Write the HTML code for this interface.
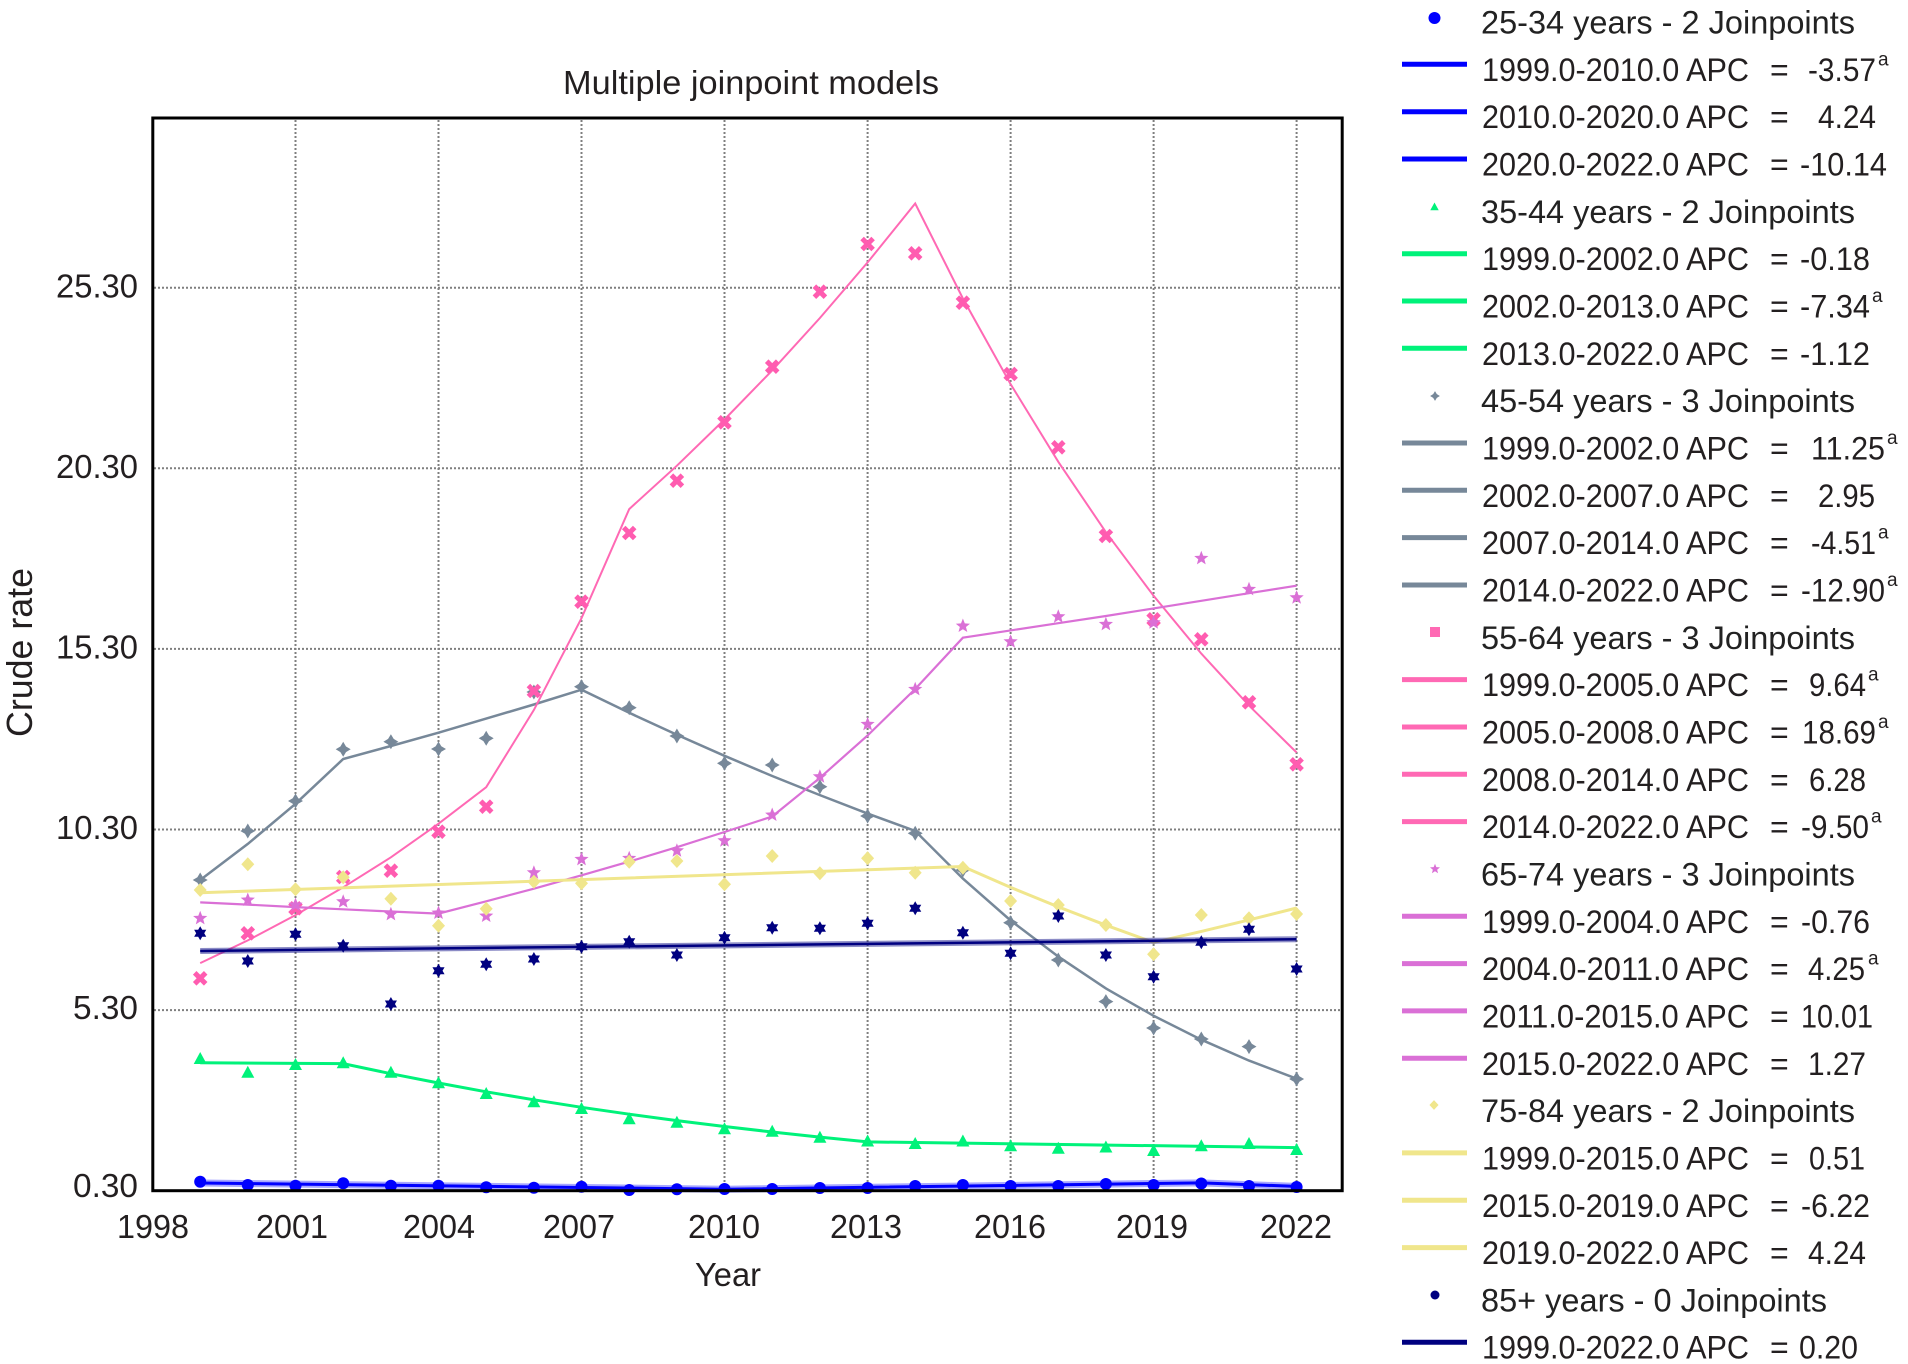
<!DOCTYPE html>
<html>
<head>
<meta charset="utf-8">
<style>
html,body{margin:0;padding:0;background:#fff;}
svg{display:block;}
text{font-family:"Liberation Sans","DejaVu Sans",sans-serif;fill:#231f20;}
.lg{font-size:32px;fill:#222;}
.sup{font-size:19px;fill:#222;}
.tk{font-size:33px;}
</style>
</head>
<body>
<svg width="1908" height="1364" viewBox="0 0 1908 1364" xmlns="http://www.w3.org/2000/svg">
<defs>
  <circle id="mc" r="6" fill="#0000ff"/>
  <path id="mt" d="M0,-7 L6.5,5 L-6.5,5Z" fill="#00f27a"/>
  <path id="mp" d="M0,-7.5 L2.8,-2.8 L7.5,0 L2.8,2.8 L0,7.5 L-2.8,2.8 L-7.5,0 L-2.8,-2.8Z" fill="#778899"/>
  <path id="mx" d="M-5.5,-5.5 L5.5,5.5 M5.5,-5.5 L-5.5,5.5" stroke="#ff5cb0" stroke-width="5" fill="none"/>
  <path id="ms" d="M0,-7.5 L1.9,-2.6 L7.1,-2.3 L3.05,1 L4.4,6.05 L0,3.2 L-4.4,6.05 L-3.05,1 L-7.1,-2.3 L-1.9,-2.6Z" fill="#da70d6"/>
  <path id="md" d="M0,-7 L6.5,0 L0,7 L-6.5,0Z" fill="#f0e68c"/>
  <path id="mh" d="M0,-7 L6.06,3.5 L-6.06,3.5Z M0,7 L-6.06,-3.5 L6.06,-3.5Z" fill="#000080"/>
</defs>
<rect width="1908" height="1364" fill="#fff"/>

<!-- title -->
<text x="751" y="94" font-size="33" text-anchor="middle" textLength="376" lengthAdjust="spacingAndGlyphs">Multiple joinpoint models</text>

<!-- gridlines -->
<g stroke="#7f7f7f" stroke-width="2" stroke-dasharray="2 2" fill="none">
  <line x1="154" y1="287.7" x2="1341" y2="287.7"/>
  <line x1="154" y1="468.3" x2="1341" y2="468.3"/>
  <line x1="154" y1="648.9" x2="1341" y2="648.9"/>
  <line x1="154" y1="829.5" x2="1341" y2="829.5"/>
  <line x1="154" y1="1010.1" x2="1341" y2="1010.1"/>
  <line x1="295.5" y1="120" x2="295.5" y2="1189"/>
  <line x1="438.5" y1="120" x2="438.5" y2="1189"/>
  <line x1="581.5" y1="120" x2="581.5" y2="1189"/>
  <line x1="724.5" y1="120" x2="724.5" y2="1189"/>
  <line x1="867.6" y1="120" x2="867.6" y2="1189"/>
  <line x1="1010.6" y1="120" x2="1010.6" y2="1189"/>
  <line x1="1153.6" y1="120" x2="1153.6" y2="1189"/>
  <line x1="1296.6" y1="120" x2="1296.6" y2="1189"/>
</g>

<!-- y tick labels -->
<g class="tk" text-anchor="end">
  <text x="138" y="297.5" textLength="82" lengthAdjust="spacingAndGlyphs">25.30</text>
  <text x="138" y="478" textLength="82" lengthAdjust="spacingAndGlyphs">20.30</text>
  <text x="138" y="658.5" textLength="82" lengthAdjust="spacingAndGlyphs">15.30</text>
  <text x="138" y="839" textLength="82" lengthAdjust="spacingAndGlyphs">10.30</text>
  <text x="138" y="1019" textLength="65" lengthAdjust="spacingAndGlyphs">5.30</text>
  <text x="138" y="1197" textLength="65" lengthAdjust="spacingAndGlyphs">0.30</text>
</g>
<!-- x tick labels -->
<g class="tk" text-anchor="middle">
  <text x="153" y="1238" textLength="72" lengthAdjust="spacingAndGlyphs">1998</text>
  <text x="292" y="1238" textLength="72" lengthAdjust="spacingAndGlyphs">2001</text>
  <text x="439" y="1238" textLength="72" lengthAdjust="spacingAndGlyphs">2004</text>
  <text x="579" y="1238" textLength="72" lengthAdjust="spacingAndGlyphs">2007</text>
  <text x="724" y="1238" textLength="72" lengthAdjust="spacingAndGlyphs">2010</text>
  <text x="866" y="1238" textLength="72" lengthAdjust="spacingAndGlyphs">2013</text>
  <text x="1010" y="1238" textLength="72" lengthAdjust="spacingAndGlyphs">2016</text>
  <text x="1152" y="1238" textLength="72" lengthAdjust="spacingAndGlyphs">2019</text>
  <text x="1296" y="1238" textLength="72" lengthAdjust="spacingAndGlyphs">2022</text>
</g>
<text x="728" y="1286" font-size="33" text-anchor="middle" textLength="66" lengthAdjust="spacingAndGlyphs">Year</text>
<text transform="translate(32,652.5) rotate(-90)" font-size="36" text-anchor="middle" textLength="169" lengthAdjust="spacingAndGlyphs">Crude rate</text>

<!-- 25-34 blue -->
<polyline fill="none" stroke="rgba(0,0,255,0.35)" stroke-width="7" points="200.2,1183 724.5,1189.2 1201.3,1182.9 1296.6,1186.4"/>
<polyline fill="none" stroke="#0000ff" stroke-width="3" points="200.2,1183 724.5,1189.2 1201.3,1182.9 1296.6,1186.4"/>
<g>
<use href="#mc" x="200.2" y="1181.7"/><use href="#mc" x="247.8" y="1185"/><use href="#mc" x="295.5" y="1185.7"/><use href="#mc" x="343.2" y="1183.3"/><use href="#mc" x="390.9" y="1185.7"/><use href="#mc" x="438.5" y="1185.7"/><use href="#mc" x="486.2" y="1187.3"/><use href="#mc" x="533.9" y="1187.7"/><use href="#mc" x="581.5" y="1186.7"/><use href="#mc" x="629.2" y="1190"/><use href="#mc" x="676.9" y="1189.3"/><use href="#mc" x="724.5" y="1189"/><use href="#mc" x="772.2" y="1189"/><use href="#mc" x="819.9" y="1188"/><use href="#mc" x="867.6" y="1188"/><use href="#mc" x="915.2" y="1186"/><use href="#mc" x="962.9" y="1185"/><use href="#mc" x="1010.6" y="1186"/><use href="#mc" x="1058.3" y="1186"/><use href="#mc" x="1105.9" y="1184"/><use href="#mc" x="1153.6" y="1185"/><use href="#mc" x="1201.3" y="1183.5"/><use href="#mc" x="1249" y="1186"/><use href="#mc" x="1296.6" y="1187"/>
</g>

<!-- 35-44 green -->
<polyline fill="none" stroke="#00f27a" stroke-width="3" points="200.2,1062.8 343.2,1063.6 390.9,1073.7 438.5,1083.0 486.2,1091.8 533.9,1099.8 581.5,1107.3 629.2,1114.2 676.9,1120.6 724.5,1126.5 772.2,1132.0 819.9,1137.1 867.6,1141.9 1296.6,1147.6"/>
<g>
<use href="#mt" x="200.2" y="1059"/><use href="#mt" x="247.8" y="1072.7"/><use href="#mt" x="295.5" y="1065"/><use href="#mt" x="343.2" y="1063.3"/><use href="#mt" x="390.9" y="1072.7"/><use href="#mt" x="438.5" y="1083.3"/><use href="#mt" x="486.2" y="1094"/><use href="#mt" x="533.9" y="1102.3"/><use href="#mt" x="581.5" y="1109"/><use href="#mt" x="629.2" y="1119.3"/><use href="#mt" x="676.9" y="1122.7"/><use href="#mt" x="724.5" y="1129.3"/><use href="#mt" x="772.2" y="1131.7"/><use href="#mt" x="819.9" y="1137.8"/><use href="#mt" x="867.6" y="1141.5"/><use href="#mt" x="915.2" y="1144"/><use href="#mt" x="962.9" y="1141.5"/><use href="#mt" x="1010.6" y="1146.3"/><use href="#mt" x="1058.3" y="1148.7"/><use href="#mt" x="1105.9" y="1147.5"/><use href="#mt" x="1153.6" y="1151"/><use href="#mt" x="1201.3" y="1146.3"/><use href="#mt" x="1249" y="1144"/><use href="#mt" x="1296.6" y="1150"/>
</g>

<!-- 45-54 gray -->
<polyline fill="none" stroke="#778899" stroke-width="2.5" points="200.2,880.0 247.8,843.9 295.5,803.8 343.2,759.0 390.9,746.0 438.5,732.7 486.2,718.6 533.9,704.5 581.5,689.7 629.2,712.8 676.9,734.8 724.5,755.8 772.2,776.0 819.9,795.1 867.6,813.6 915.2,830.9 962.9,878.6 1010.6,920.5 1058.3,956.6 1105.9,988.4 1153.6,1015.8 1201.3,1039.7 1249.0,1060.6 1296.6,1078.7"/>
<g>
<use href="#mp" x="200.2" y="880"/><use href="#mp" x="247.8" y="831"/><use href="#mp" x="295.5" y="801"/><use href="#mp" x="343.2" y="749.3"/><use href="#mp" x="390.9" y="741.7"/><use href="#mp" x="438.5" y="749"/><use href="#mp" x="486.2" y="738.3"/><use href="#mp" x="533.9" y="692"/><use href="#mp" x="581.5" y="686.7"/><use href="#mp" x="629.2" y="707.7"/><use href="#mp" x="676.9" y="736"/><use href="#mp" x="724.5" y="763.3"/><use href="#mp" x="772.2" y="765"/><use href="#mp" x="819.9" y="786.7"/><use href="#mp" x="867.6" y="816"/><use href="#mp" x="915.2" y="833.3"/><use href="#mp" x="962.9" y="870"/><use href="#mp" x="1010.6" y="922.7"/><use href="#mp" x="1058.3" y="960"/><use href="#mp" x="1105.9" y="1001.6"/><use href="#mp" x="1153.6" y="1028"/><use href="#mp" x="1201.3" y="1039"/><use href="#mp" x="1249" y="1046.6"/><use href="#mp" x="1296.6" y="1079"/>
</g>

<!-- 55-64 pink -->
<polyline fill="none" stroke="#ff69b4" stroke-width="2" points="200.2,963.1 247.8,940.4 295.5,915.1 343.2,887.3 390.9,857.3 438.5,823.7 486.2,787.2 533.9,709.9 581.5,618.2 629.2,509.1 676.9,465.7 724.5,419.5 772.2,370.4 819.9,318.0 867.6,262.4 915.2,203.5 962.9,298.5 1010.6,384.1 1058.3,461.8 1105.9,532.2 1153.6,595.8 1201.3,653.6 1249.0,705.6 1296.6,752.5"/>
<g>
<use href="#mx" x="200.2" y="978.3"/><use href="#mx" x="247.8" y="933.3"/><use href="#mx" x="295.5" y="908.3"/><use href="#mx" x="343.2" y="877"/><use href="#mx" x="390.9" y="870.7"/><use href="#mx" x="438.5" y="831.7"/><use href="#mx" x="486.2" y="806.7"/><use href="#mx" x="533.9" y="691"/><use href="#mx" x="581.5" y="601.7"/><use href="#mx" x="629.2" y="533"/><use href="#mx" x="676.9" y="480.7"/><use href="#mx" x="724.5" y="422.3"/><use href="#mx" x="772.2" y="366.7"/><use href="#mx" x="819.9" y="291.7"/><use href="#mx" x="867.6" y="244"/><use href="#mx" x="915.2" y="253.3"/><use href="#mx" x="962.9" y="302.7"/><use href="#mx" x="1010.6" y="374"/><use href="#mx" x="1058.3" y="447.3"/><use href="#mx" x="1105.9" y="536"/><use href="#mx" x="1153.6" y="619.3"/><use href="#mx" x="1201.3" y="639.3"/><use href="#mx" x="1249" y="702.3"/><use href="#mx" x="1296.6" y="764.3"/>
</g>

<!-- 65-74 magenta -->
<polyline fill="none" stroke="#da70d6" stroke-width="2.2" points="200.2,902.4 247.8,904.6 295.5,907.1 343.2,909.3 390.9,911.5 438.5,913.6 486.2,901.3 533.9,888.7 581.5,875.3 629.2,861.6 676.9,847.2 724.5,832.0 772.2,816.5 819.9,777.8 867.6,735.5 915.2,689.0 962.9,637.7 1010.6,630.4 1058.3,623.2 1105.9,616.0 1153.6,608.4 1201.3,600.8 1249.0,593.2 1296.6,585.7"/>
<g>
<use href="#ms" x="200.2" y="918.3"/><use href="#ms" x="247.8" y="900"/><use href="#ms" x="295.5" y="905"/><use href="#ms" x="343.2" y="901.7"/><use href="#ms" x="390.9" y="914.3"/><use href="#ms" x="438.5" y="913"/><use href="#ms" x="486.2" y="916"/><use href="#ms" x="533.9" y="872.7"/><use href="#ms" x="581.5" y="859.3"/><use href="#ms" x="629.2" y="858.3"/><use href="#ms" x="676.9" y="850.7"/><use href="#ms" x="724.5" y="840.7"/><use href="#ms" x="772.2" y="815"/><use href="#ms" x="819.9" y="776.7"/><use href="#ms" x="867.6" y="724.3"/><use href="#ms" x="915.2" y="689.3"/><use href="#ms" x="962.9" y="626"/><use href="#ms" x="1010.6" y="641.7"/><use href="#ms" x="1058.3" y="616.7"/><use href="#ms" x="1105.9" y="624.3"/><use href="#ms" x="1153.6" y="622.7"/><use href="#ms" x="1201.3" y="558.3"/><use href="#ms" x="1249" y="589.3"/><use href="#ms" x="1296.6" y="597.7"/>
</g>

<!-- 75-84 yellow -->
<polyline fill="none" stroke="#f0e68c" stroke-width="3" points="200.2,892.7 962.9,866.5 1010.6,887.4 1058.3,906.9 1105.9,925.2 1153.6,942.4 1201.3,931.4 1249.0,919.9 1296.6,908.0"/>
<g>
<use href="#md" x="200.2" y="890"/><use href="#md" x="247.8" y="864.3"/><use href="#md" x="295.5" y="889.3"/><use href="#md" x="343.2" y="877.3"/><use href="#md" x="390.9" y="898.7"/><use href="#md" x="438.5" y="925.7"/><use href="#md" x="486.2" y="908.7"/><use href="#md" x="533.9" y="881.7"/><use href="#md" x="581.5" y="883.3"/><use href="#md" x="629.2" y="861.7"/><use href="#md" x="676.9" y="861"/><use href="#md" x="724.5" y="884.3"/><use href="#md" x="772.2" y="856"/><use href="#md" x="819.9" y="873.3"/><use href="#md" x="867.6" y="858.3"/><use href="#md" x="915.2" y="872.7"/><use href="#md" x="962.9" y="867.7"/><use href="#md" x="1010.6" y="901"/><use href="#md" x="1058.3" y="905"/><use href="#md" x="1105.9" y="925"/><use href="#md" x="1153.6" y="954.3"/><use href="#md" x="1201.3" y="915"/><use href="#md" x="1249" y="918.3"/><use href="#md" x="1296.6" y="914"/>
</g>

<!-- 85+ navy -->
<g>
<use href="#mh" x="200.2" y="933.3"/><use href="#mh" x="247.8" y="961"/><use href="#mh" x="295.5" y="934.3"/><use href="#mh" x="343.2" y="945.7"/><use href="#mh" x="390.9" y="1004"/><use href="#mh" x="438.5" y="970.7"/><use href="#mh" x="486.2" y="964.3"/><use href="#mh" x="533.9" y="959"/><use href="#mh" x="581.5" y="946.7"/><use href="#mh" x="629.2" y="941.7"/><use href="#mh" x="676.9" y="955"/><use href="#mh" x="724.5" y="937.7"/><use href="#mh" x="772.2" y="927.7"/><use href="#mh" x="819.9" y="928.3"/><use href="#mh" x="867.6" y="923.3"/><use href="#mh" x="915.2" y="908.3"/><use href="#mh" x="962.9" y="932.7"/><use href="#mh" x="1010.6" y="953.3"/><use href="#mh" x="1058.3" y="916"/><use href="#mh" x="1105.9" y="955"/><use href="#mh" x="1153.6" y="976.7"/><use href="#mh" x="1201.3" y="942.3"/><use href="#mh" x="1249" y="929.3"/><use href="#mh" x="1296.6" y="969"/>
</g>
<line x1="200.2" y1="951" x2="1296.6" y2="939.2" stroke="rgba(0,0,128,0.45)" stroke-width="6"/>
<line x1="200.2" y1="951" x2="1296.6" y2="939.2" stroke="#000080" stroke-width="2.5"/>

<!-- plot border -->
<rect x="152.8" y="118" width="1189.4" height="1072.7" fill="none" stroke="#000" stroke-width="3"/>

<!-- legend -->
<g>
  <g stroke-width="5">
    <line x1="1402" x2="1467" y1="64.3" y2="64.3" stroke="#0000ff"/>
    <line x1="1402" x2="1467" y1="111.7" y2="111.7" stroke="#0000ff"/>
    <line x1="1402" x2="1467" y1="159" y2="159" stroke="#0000ff"/>
    <line x1="1402" x2="1467" y1="253.7" y2="253.7" stroke="#00f27a"/>
    <line x1="1402" x2="1467" y1="301" y2="301" stroke="#00f27a"/>
    <line x1="1402" x2="1467" y1="348.3" y2="348.3" stroke="#00f27a"/>
    <line x1="1402" x2="1467" y1="443" y2="443" stroke="#778899"/>
    <line x1="1402" x2="1467" y1="490.3" y2="490.3" stroke="#778899"/>
    <line x1="1402" x2="1467" y1="537.6" y2="537.6" stroke="#778899"/>
    <line x1="1402" x2="1467" y1="585" y2="585" stroke="#778899"/>
    <line x1="1402" x2="1467" y1="679.6" y2="679.6" stroke="#ff69b4"/>
    <line x1="1402" x2="1467" y1="727" y2="727" stroke="#ff69b4"/>
    <line x1="1402" x2="1467" y1="774.3" y2="774.3" stroke="#ff69b4"/>
    <line x1="1402" x2="1467" y1="821.6" y2="821.6" stroke="#ff69b4"/>
    <line x1="1402" x2="1467" y1="916.3" y2="916.3" stroke="#da70d6"/>
    <line x1="1402" x2="1467" y1="963.6" y2="963.6" stroke="#da70d6"/>
    <line x1="1402" x2="1467" y1="1010.9" y2="1010.9" stroke="#da70d6"/>
    <line x1="1402" x2="1467" y1="1058.3" y2="1058.3" stroke="#da70d6"/>
    <line x1="1402" x2="1467" y1="1152.9" y2="1152.9" stroke="#f0e68c"/>
    <line x1="1402" x2="1467" y1="1200.3" y2="1200.3" stroke="#f0e68c"/>
    <line x1="1402" x2="1467" y1="1247.6" y2="1247.6" stroke="#f0e68c"/>
    <line x1="1402" x2="1467" y1="1342.2" y2="1342.2" stroke="#000080"/>
  </g>
  <use href="#mc" x="1434.5" y="18"/>
  <use href="#mt" transform="translate(1434.5,207) scale(0.65)"/>
  <use href="#mp" transform="translate(1435,396) scale(0.65)"/>
  <rect x="1430" y="627" width="10" height="10" fill="#ff69b4"/>
  <use href="#ms" transform="translate(1435,869) scale(0.7)"/>
  <use href="#md" transform="translate(1434,1105) scale(0.7)"/>
  <circle cx="1435" cy="1295" r="4.5" fill="#000080"/>

  <text class="lg" x="1481" y="33.5" textLength="374" lengthAdjust="spacingAndGlyphs">25-34 years - 2 Joinpoints</text>
  <text class="lg" x="1481" y="222.8" textLength="374" lengthAdjust="spacingAndGlyphs">35-44 years - 2 Joinpoints</text>
  <text class="lg" x="1481" y="412.1" textLength="374" lengthAdjust="spacingAndGlyphs">45-54 years - 3 Joinpoints</text>
  <text class="lg" x="1481" y="648.8" textLength="374" lengthAdjust="spacingAndGlyphs">55-64 years - 3 Joinpoints</text>
  <text class="lg" x="1481" y="885.4" textLength="374" lengthAdjust="spacingAndGlyphs">65-74 years - 3 Joinpoints</text>
  <text class="lg" x="1481" y="1122.1" textLength="374" lengthAdjust="spacingAndGlyphs">75-84 years - 2 Joinpoints</text>
  <text class="lg" x="1481" y="1311.4" textLength="346" lengthAdjust="spacingAndGlyphs">85+ years - 0 Joinpoints</text>

  <g class="lg">
    <text x="1482" y="80.8" textLength="267" lengthAdjust="spacingAndGlyphs">1999.0-2010.0 APC</text>
    <text x="1482" y="128.2" textLength="267" lengthAdjust="spacingAndGlyphs">2010.0-2020.0 APC</text>
    <text x="1482" y="175.5" textLength="267" lengthAdjust="spacingAndGlyphs">2020.0-2022.0 APC</text>
    <text x="1482" y="270.2" textLength="267" lengthAdjust="spacingAndGlyphs">1999.0-2002.0 APC</text>
    <text x="1482" y="317.5" textLength="267" lengthAdjust="spacingAndGlyphs">2002.0-2013.0 APC</text>
    <text x="1482" y="364.8" textLength="267" lengthAdjust="spacingAndGlyphs">2013.0-2022.0 APC</text>
    <text x="1482" y="459.5" textLength="267" lengthAdjust="spacingAndGlyphs">1999.0-2002.0 APC</text>
    <text x="1482" y="506.8" textLength="267" lengthAdjust="spacingAndGlyphs">2002.0-2007.0 APC</text>
    <text x="1482" y="554.1" textLength="267" lengthAdjust="spacingAndGlyphs">2007.0-2014.0 APC</text>
    <text x="1482" y="601.5" textLength="267" lengthAdjust="spacingAndGlyphs">2014.0-2022.0 APC</text>
    <text x="1482" y="696.1" textLength="267" lengthAdjust="spacingAndGlyphs">1999.0-2005.0 APC</text>
    <text x="1482" y="743.5" textLength="267" lengthAdjust="spacingAndGlyphs">2005.0-2008.0 APC</text>
    <text x="1482" y="790.8" textLength="267" lengthAdjust="spacingAndGlyphs">2008.0-2014.0 APC</text>
    <text x="1482" y="838.1" textLength="267" lengthAdjust="spacingAndGlyphs">2014.0-2022.0 APC</text>
    <text x="1482" y="932.8" textLength="267" lengthAdjust="spacingAndGlyphs">1999.0-2004.0 APC</text>
    <text x="1482" y="980.1" textLength="267" lengthAdjust="spacingAndGlyphs">2004.0-2011.0 APC</text>
    <text x="1482" y="1027.4" textLength="267" lengthAdjust="spacingAndGlyphs">2011.0-2015.0 APC</text>
    <text x="1482" y="1074.8" textLength="267" lengthAdjust="spacingAndGlyphs">2015.0-2022.0 APC</text>
    <text x="1482" y="1169.4" textLength="267" lengthAdjust="spacingAndGlyphs">1999.0-2015.0 APC</text>
    <text x="1482" y="1216.8" textLength="267" lengthAdjust="spacingAndGlyphs">2015.0-2019.0 APC</text>
    <text x="1482" y="1264.1" textLength="267" lengthAdjust="spacingAndGlyphs">2019.0-2022.0 APC</text>
    <text x="1482" y="1358.7" textLength="267" lengthAdjust="spacingAndGlyphs">1999.0-2022.0 APC</text>
  </g>
  <g class="lg">
    <text x="1770" y="80.8">=</text><text x="1770" y="128.2">=</text><text x="1770" y="175.5">=</text>
    <text x="1770" y="270.2">=</text><text x="1770" y="317.5">=</text><text x="1770" y="364.8">=</text>
    <text x="1770" y="459.5">=</text><text x="1770" y="506.8">=</text><text x="1770" y="554.1">=</text><text x="1770" y="601.5">=</text>
    <text x="1770" y="696.1">=</text><text x="1770" y="743.5">=</text><text x="1770" y="790.8">=</text><text x="1770" y="838.1">=</text>
    <text x="1770" y="932.8">=</text><text x="1770" y="980.1">=</text><text x="1770" y="1027.4">=</text><text x="1770" y="1074.8">=</text>
    <text x="1770" y="1169.4">=</text><text x="1770" y="1216.8">=</text><text x="1770" y="1264.1">=</text>
    <text x="1770" y="1358.7">=</text>
  </g>
  <g class="lg">
    <text x="1808" y="80.8" textLength="68" lengthAdjust="spacingAndGlyphs">-3.57</text>
    <text x="1818" y="128.2" textLength="58" lengthAdjust="spacingAndGlyphs">4.24</text>
    <text x="1800" y="175.5" textLength="87" lengthAdjust="spacingAndGlyphs">-10.14</text>
    <text x="1800" y="270.2" textLength="70" lengthAdjust="spacingAndGlyphs">-0.18</text>
    <text x="1800" y="317.5" textLength="70" lengthAdjust="spacingAndGlyphs">-7.34</text>
    <text x="1800" y="364.8" textLength="70" lengthAdjust="spacingAndGlyphs">-1.12</text>
    <text x="1811" y="459.5" textLength="74" lengthAdjust="spacingAndGlyphs">11.25</text>
    <text x="1818" y="506.8" textLength="57" lengthAdjust="spacingAndGlyphs">2.95</text>
    <text x="1811" y="554.1" textLength="65" lengthAdjust="spacingAndGlyphs">-4.51</text>
    <text x="1801" y="601.5" textLength="84" lengthAdjust="spacingAndGlyphs">-12.90</text>
    <text x="1809" y="696.1" textLength="57" lengthAdjust="spacingAndGlyphs">9.64</text>
    <text x="1802" y="743.5" textLength="74" lengthAdjust="spacingAndGlyphs">18.69</text>
    <text x="1809" y="790.8" textLength="57" lengthAdjust="spacingAndGlyphs">6.28</text>
    <text x="1801" y="838.1" textLength="68" lengthAdjust="spacingAndGlyphs">-9.50</text>
    <text x="1801" y="932.8" textLength="69" lengthAdjust="spacingAndGlyphs">-0.76</text>
    <text x="1808" y="980.1" textLength="57" lengthAdjust="spacingAndGlyphs">4.25</text>
    <text x="1801" y="1027.4" textLength="72" lengthAdjust="spacingAndGlyphs">10.01</text>
    <text x="1808" y="1074.8" textLength="58" lengthAdjust="spacingAndGlyphs">1.27</text>
    <text x="1809" y="1169.4" textLength="56" lengthAdjust="spacingAndGlyphs">0.51</text>
    <text x="1801" y="1216.8" textLength="69" lengthAdjust="spacingAndGlyphs">-6.22</text>
    <text x="1808" y="1264.1" textLength="58" lengthAdjust="spacingAndGlyphs">4.24</text>
    <text x="1799" y="1358.7" textLength="59" lengthAdjust="spacingAndGlyphs">0.20</text>
  </g>
  <g class="sup">
    <text x="1878" y="65.3">a</text>
    <text x="1872" y="302">a</text>
    <text x="1887" y="444">a</text>
    <text x="1878" y="538.6">a</text>
    <text x="1887" y="586">a</text>
    <text x="1868" y="680.6">a</text>
    <text x="1878" y="728">a</text>
    <text x="1871" y="822.6">a</text>
    <text x="1868" y="964.6">a</text>
  </g>
</g>
</svg>
</body>
</html>
